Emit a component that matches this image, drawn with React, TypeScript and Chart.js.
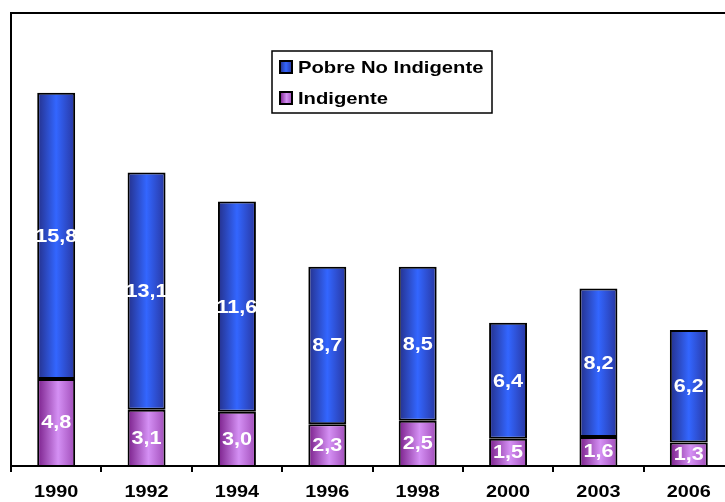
import React, { useEffect, useRef } from "react";
import { Chart, registerables } from "chart.js";

Chart.register(...registerables);

const categories = ["1990", "1992", "1994", "1996", "1998", "2000", "2003", "2006"];
const indigente = [4.8, 3.1, 3.0, 2.3, 2.5, 1.5, 1.6, 1.3];
const pobreNoIndigente = [15.8, 13.1, 11.6, 8.7, 8.5, 6.4, 8.2, 6.2];
const seriesLabels = ["Indigente", "Pobre No Indigente"];

const FONT = "'Liberation Sans', Arial, sans-serif";
const BAR_PCT = 0.42;

function makeGradient(ctx: any, stops: [number, string][]) {
  const chart = ctx.chart;
  if (!chart.chartArea || !chart.scales || !chart.scales.x) return stops[1][1];
  const xs = chart.scales.x;
  const cx = xs.getPixelForTick(ctx.dataIndex);
  const cw = (chart.chartArea.right - chart.chartArea.left) / categories.length;
  const hw = (cw * BAR_PCT) / 2;
  const g = chart.ctx.createLinearGradient(cx - hw, 0, cx + hw, 0);
  stops.forEach(([o, c]) => g.addColorStop(o, c));
  return g;
}

const blueStops: [number, string][] = [
  [0, "#25308a"],
  [0.5, "#3366ff"],
  [1, "#2836a0"],
];
const purpleStops: [number, string][] = [
  [0, "#7a1f8a"],
  [0.55, "#d490f4"],
  [1, "#a04cb8"],
];

function stretchedText(ctx: any, text: string, x: number, y: number, sx: number) {
  ctx.save();
  ctx.translate(x, y);
  ctx.scale(sx, 1);
  ctx.fillText(text, 0, 0);
  ctx.restore();
}

const framePlugin = {
  id: "frame",
  afterDraw(chart: any) {
    const { ctx, chartArea } = chart;
    ctx.save();
    ctx.strokeStyle = "#000";
    ctx.lineWidth = 2;
    ctx.beginPath();
    ctx.moveTo(chartArea.left, chartArea.bottom);
    ctx.lineTo(chartArea.left, chartArea.top);
    ctx.lineTo(chartArea.right, chartArea.top);
    ctx.stroke();
    ctx.beginPath();
    ctx.moveTo(chartArea.left, chartArea.bottom);
    ctx.lineTo(chartArea.right, chartArea.bottom);
    ctx.stroke();
    // category labels (stretched like the original)
    const xs = chart.scales.x;
    ctx.fillStyle = "#000";
    ctx.font = `bold 16px ${FONT}`;
    ctx.textAlign = "center";
    ctx.textBaseline = "middle";
    chart.data.labels.forEach((lab: string, i: number) => {
      stretchedText(ctx, lab, xs.getPixelForTick(i), 493, 1.24);
    });
    ctx.restore();
  },
};

const labelPlugin = {
  id: "barLabels",
  afterDatasetsDraw(chart: any) {
    const { ctx } = chart;
    ctx.save();
    ctx.fillStyle = "#fff";
    ctx.font = `bold 18px ${FONT}`;
    ctx.textAlign = "center";
    ctx.textBaseline = "middle";
    chart.data.datasets.forEach((ds: any, di: number) => {
      const meta = chart.getDatasetMeta(di);
      meta.data.forEach((bar: any, i: number) => {
        const v = ds.data[i];
        const y = (bar.y + bar.base) / 2;
        stretchedText(ctx, v.toFixed(1).replace(".", ","), bar.x, y + 1, 1.2);
      });
    });
    ctx.restore();
  },
};

const legendPlugin = {
  id: "boxLegend",
  afterDraw(chart: any) {
    const { ctx } = chart;
    const left = 272, top = 51, right = 492, bottom = 113;
    ctx.save();
    ctx.fillStyle = "#fff";
    ctx.fillRect(left, top, right - left, bottom - top);
    ctx.strokeStyle = "#000";
    ctx.lineWidth = 1.5;
    ctx.strokeRect(left, top, right - left, bottom - top);
    const items = [
      { label: chart.data.datasets[1].label, stops: blueStops, y: 67 },
      { label: chart.data.datasets[0].label, stops: purpleStops, y: 98 },
    ];
    ctx.font = `bold 17px ${FONT}`;
    ctx.textBaseline = "middle";
    ctx.textAlign = "left";
    items.forEach((it) => {
      const mx = 280, my = it.y - 6, ms = 12;
      const g = ctx.createLinearGradient(mx, 0, mx + ms, 0);
      it.stops.forEach(([o, c]) => g.addColorStop(o, c));
      ctx.fillStyle = g;
      ctx.fillRect(mx, my, ms, ms);
      ctx.lineWidth = 2;
      ctx.strokeStyle = "#000";
      ctx.strokeRect(mx, my, ms, ms);
      ctx.fillStyle = "#000";
      stretchedText(ctx, it.label, 298, it.y + 1, 1.19);
    });
    ctx.restore();
  },
};

export default function App() {
  const ref = useRef<HTMLCanvasElement | null>(null);
  useEffect(() => {
    if (!ref.current) return;
    const chart = new Chart(ref.current, {
      type: "bar",
      data: {
        labels: categories,
        datasets: [
          {
            label: seriesLabels[0],
            data: indigente,
            backgroundColor: (c: any) => makeGradient(c, purpleStops),
            borderColor: "#000",
            borderWidth: 2,
            borderSkipped: "bottom",
            barPercentage: BAR_PCT,
            categoryPercentage: 1,
          },
          {
            label: seriesLabels[1],
            data: pobreNoIndigente,
            backgroundColor: (c: any) => makeGradient(c, blueStops),
            borderColor: "#000",
            borderWidth: 2,
            borderSkipped: false,
            barPercentage: BAR_PCT,
            categoryPercentage: 1,
          },
        ],
      },
      options: {
        responsive: false,
        animation: false,
        layout: { padding: { left: 11, top: 13, right: 11, bottom: 0 } },
        plugins: {
          legend: { display: false },
          tooltip: { enabled: false },
          title: { display: false },
        },
        scales: {
          x: {
            stacked: true,
            grid: {
              offset: true,
              drawOnChartArea: false,
              drawTicks: true,
              tickLength: 6,
              color: "#000",
              lineWidth: 2,
            },
            border: { display: true, color: "#000", width: 2 },
            ticks: {
              color: "rgba(0,0,0,0)",
              font: { family: FONT, size: 16, weight: "bold" },
              padding: 11,
              maxRotation: 0,
              autoSkip: false,
            },
            afterFit: (s: any) => {
              s.height = 36;
            },
          },
          y: {
            stacked: true,
            display: false,
            min: 0,
            max: 25,
          },
        },
      },
      plugins: [framePlugin, labelPlugin, legendPlugin],
    });
    return () => chart.destroy();
  }, []);
  return (
    <div
      style={{
        position: "fixed",
        left: 0,
        top: 0,
        width: 725,
        height: 502,
        overflow: "hidden",
        background: "#fff",
      }}
    >
      <canvas ref={ref} width={745} height={502} style={{ display: "block", width: 745, height: 502 }} />
    </div>
  );
}
